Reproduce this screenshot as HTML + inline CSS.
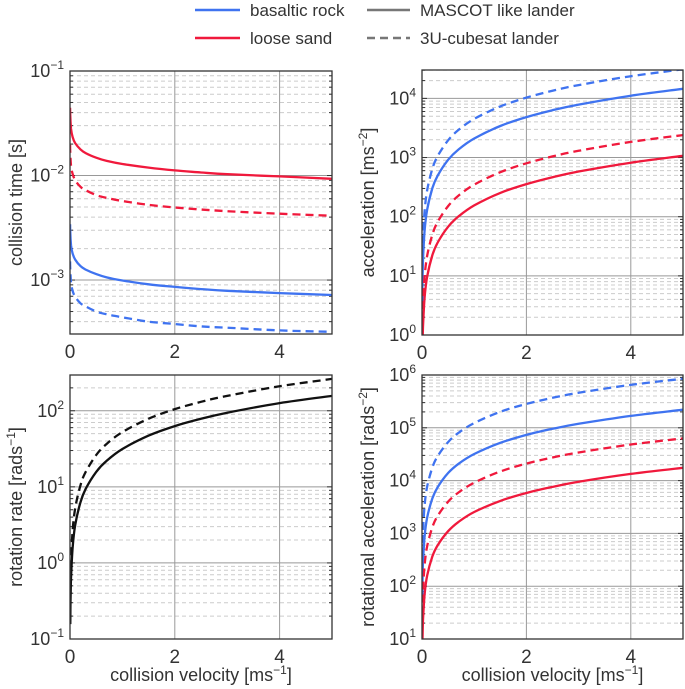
<!DOCTYPE html>
<html><head><meta charset="utf-8"><style>
body{margin:0;background:#fff}
svg{display:block;font-family:"Liberation Sans","DejaVu Sans",sans-serif}
</style></head><body>
<svg id="c" width="685" height="689" viewBox="0 0 685 689" xmlns="http://www.w3.org/2000/svg">
<g font-size="17" fill="#333">
<line x1="195" y1="10" x2="240" y2="10" stroke="#3F73F0" stroke-width="2.5"/>
<text x="250" y="16">basaltic rock</text>
<line x1="195" y1="38" x2="240" y2="38" stroke="#F0193C" stroke-width="2.5"/>
<text x="250" y="44">loose sand</text>
<line x1="367" y1="10" x2="410" y2="10" stroke="#777" stroke-width="2.5"/>
<text x="420" y="16">MASCOT like lander</text>
<line x1="367" y1="38" x2="410" y2="38" stroke="#777" stroke-width="2.5" stroke-dasharray="8,5"/>
<text x="420" y="44">3U-cubesat lander</text>
</g>
</svg>
<script>
const velocity = [0.005,0.01,0.02,0.05,0.1,0.2,0.3,0.5,0.7,1,1.5,2,2.5,3,4,5];
const timeV = [0.002,0.005,0.02,0.05,0.1,0.2,0.3,0.5,0.7,1,1.5,2,2.5,3,4,5];
const timeSandMascot = [0.0446,0.0371,0.0281,0.0234,0.0204,0.0178,0.0164,0.0148,0.0138,0.0129,0.0119,0.0112,0.0107,0.0103,0.0098,0.0093];
const timeSandCube = [0.0197,0.0164,0.0124,0.0104,0.0090,0.0078,0.00724,0.0065,0.00611,0.0057,0.00524,0.00495,0.00473,0.00456,0.00431,0.00412];
const timeRockMascot = [0.00342,0.00285,0.00216,0.00180,0.00157,0.00136,0.00126,0.00114,0.00106,0.00099,0.00091,0.00086,0.00082,0.00079,0.00075,0.00072];
const timeRockCube = [0.00151,0.00126,0.00095,0.00079,0.00069,0.00060,0.00056,0.00050,0.00047,0.00044,0.00040,0.00038,0.00036,0.00035,0.00033,0.00032];
const accRockCube = [7.8,17.9,41,123,283,651,1060,1956,2930,4495,7320,10300,13500,16800,23700,31000];
const accRockMascot = [3.6,8.4,19,58,133,305,496,915,1370,2100,3420,4830,6310,7860,11100,14500];
const accSandCube = [0.6,1.38,3.2,9.6,22,50,82,151,227,348,566,800,1044,1300,1840,2400];
const accSandMascot = [0.27,0.62,1.4,4.3,9.8,22.5,36.6,67.5,101,155,253,356,465,580,819,1070];
const rateMascot = [0.157,0.314,0.63,1.57,3.14,6.28,9.42,15.7,22,31.4,47.1,62.8,78.5,94.2,126,157];
const rateCube = [0.262,0.524,1.05,2.62,5.24,10.5,15.7,26.2,36.7,52.4,78.6,105,131,157,210,262];
const rotRockCube = [213,490,1130,3380,7770,17850,29100,53600,80300,123000,201000,283000,370000,461000,650000,850000];
const rotRockMascot = [55,127,293,876,2010,4620,7520,13900,20800,31900,51900,73300,95700,119000,168000,220000];
const rotSandCube = [15.8,36,84,251,576,1320,2150,3980,5950,9140,14900,21000,27400,34100,48200,63000];
const rotSandMascot = [4.4,10.1,23,70,160,368,599,1100,1650,2540,4130,5830,7610,9490,13400,17500];
const xTicks = [0,2,4];

const NS="http://www.w3.org/2000/svg", svg=document.getElementById('c');
const BLUE="#3F73F0", RED="#F0193C", BLACK="#111";
function mk(tag,attrs,parent){const e=document.createElementNS(NS,tag);for(const k in attrs)e.setAttribute(k,attrs[k]);(parent||svg).appendChild(e);return e;}
function smooth(pts){
  let d='M'+pts[0][0].toFixed(1)+','+pts[0][1].toFixed(1);
  for(let i=0;i<pts.length-1;i++){
    const p0=pts[Math.max(0,i-1)],p1=pts[i],p2=pts[i+1],p3=pts[Math.min(pts.length-1,i+2)];
    const c1=[p1[0]+(p2[0]-p0[0])/6,p1[1]+(p2[1]-p0[1])/6];
    const c2=[p2[0]-(p3[0]-p1[0])/6,p2[1]-(p3[1]-p1[1])/6];
    d+=' C'+c1[0].toFixed(1)+','+c1[1].toFixed(1)+' '+c2[0].toFixed(1)+','+c2[1].toFixed(1)+' '+p2[0].toFixed(1)+','+p2[1].toFixed(1);
  }
  return d;
}

function panel(id,x0,x1,y0,y1,lmin,lmax,title,titleX,showXTitle,series){
  const g=mk('g',{});
  
  
  const sx=v=>x0+(v/5)*(x1-x0);
  const sy=v=>y1-(Math.log10(v)-lmin)/(lmax-lmin)*(y1-y0);
  const cp=mk('clipPath',{id:id+'-clip'},g);
  mk('rect',{x:x0,y:y0,width:x1-x0,height:y1-y0},cp);
  for(let d=Math.floor(lmin);d<=Math.ceil(lmax);d++){
    for(let m=1;m<10;m++){
      const v=m*Math.pow(10,d),lv=Math.log10(v);
      if(lv<lmin-1e-9||lv>lmax+1e-9)continue;
      const y=sy(v);
      if(m===1){const l=mk('line',{x1:x0,x2:x1,y1:y,y2:y,stroke:'#999','stroke-width':1},g);
        const t=mk('text',{x:x0-6,y:y+6,'text-anchor':'end','font-size':18,fill:'#333'},g);
        
        t.textContent='10';const s=mk('tspan',{dy:-8,'font-size':12},t);s.textContent=String(d).replace('-','−');
        mk('line',{x1:x0,x2:x0+5,y1:y,y2:y,stroke:'#333'},g);mk('line',{x1:x1-5,x2:x1,y1:y,y2:y,stroke:'#333'},g);
      } else {const l=mk('line',{x1:x0,x2:x1,y1:y,y2:y,stroke:'#ccc','stroke-width':1,'stroke-dasharray':'4,3'},g);
        mk('line',{x1:x0,x2:x0+3,y1:y,y2:y,stroke:'#333'},g);mk('line',{x1:x1-3,x2:x1,y1:y,y2:y,stroke:'#333'},g);}
    }
  }
  xTicks.forEach(t=>{const x=sx(t);
    if(t>0){const l=mk('line',{x1:x,x2:x,y1:y0,y2:y1,stroke:'#999'},g);}
    const tx=mk('text',{x:x,y:y1+24,'text-anchor':'middle','font-size':19,fill:'#333'},g);
    tx.textContent=t;});
  series.forEach(s=>{
    const pts=s.vals.map((v,i)=>[sx(s.xs[i]),sy(v)]);
    const p=mk('path',{d:smooth(pts),fill:'none',stroke:s.color,'stroke-width':2.3,'clip-path':'url(#'+id+'-clip)'},g);
    if(s.dash)p.setAttribute('stroke-dasharray','8,5');
    
  });
  const fr=mk('rect',{x:x0,y:y0,width:x1-x0,height:y1-y0,fill:'none',stroke:'#333','stroke-width':1.3},g);
  
  const cy=(y0+y1)/2;
  const yt=mk('text',{x:titleX,y:cy,transform:'rotate(-90 '+titleX+' '+cy+')','text-anchor':'middle','font-size':18,fill:'#333'},g);
  
  title.forEach(p=>{if(typeof p==='string'){yt.appendChild(document.createTextNode(p));}else{const s=mk('tspan',{dy:-7,'font-size':12},yt);s.textContent=p.sup;const b=mk('tspan',{dy:7},yt);b.textContent=p.after;}});
  if(showXTitle){const xt=mk('text',{x:(x0+x1)/2,y:y1+42,'text-anchor':'middle','font-size':18,fill:'#333'},g);
    
    xt.appendChild(document.createTextNode('collision velocity [ms'));const s=mk('tspan',{dy:-7,'font-size':12},xt);s.textContent='−1';const b=mk('tspan',{dy:7},xt);b.textContent=']';}
}
panel('collision-time',70,332,71,334,-3.516,-1,['collision time [s]'],22,false,[
 {name:'time-sand-mascot',xs:timeV,vals:timeSandMascot,color:RED},
 {name:'time-sand-cube',xs:timeV,vals:timeSandCube,color:RED,dash:1},
 {name:'time-rock-mascot',xs:timeV,vals:timeRockMascot,color:BLUE},
 {name:'time-rock-cube',xs:timeV,vals:timeRockCube,color:BLUE,dash:1}]);
panel('acceleration',422,683,70,335,0,4.48,['acceleration [ms',{sup:'−2',after:']'}],374,false,[
 {name:'acc-rock-cube',xs:velocity,vals:accRockCube,color:BLUE,dash:1},
 {name:'acc-rock-mascot',xs:velocity,vals:accRockMascot,color:BLUE},
 {name:'acc-sand-cube',xs:velocity,vals:accSandCube,color:RED,dash:1},
 {name:'acc-sand-mascot',xs:velocity,vals:accSandMascot,color:RED}]);
panel('rotation-rate',70,332,375,639,-1,2.47,['rotation rate [rads',{sup:'−1',after:']'}],22,true,[
 {name:'rate-cube',xs:velocity,vals:rateCube,color:BLACK,dash:1},
 {name:'rate-mascot',xs:velocity,vals:rateMascot,color:BLACK}]);
panel('rotational-acceleration',422,683,375,639,1,6,['rotational acceleration [rads',{sup:'−2',after:']'}],374,true,[
 {name:'rot-rock-cube',xs:velocity,vals:rotRockCube,color:BLUE,dash:1},
 {name:'rot-rock-mascot',xs:velocity,vals:rotRockMascot,color:BLUE},
 {name:'rot-sand-cube',xs:velocity,vals:rotSandCube,color:RED,dash:1},
 {name:'rot-sand-mascot',xs:velocity,vals:rotSandMascot,color:RED}]);
</script>
</body></html>
